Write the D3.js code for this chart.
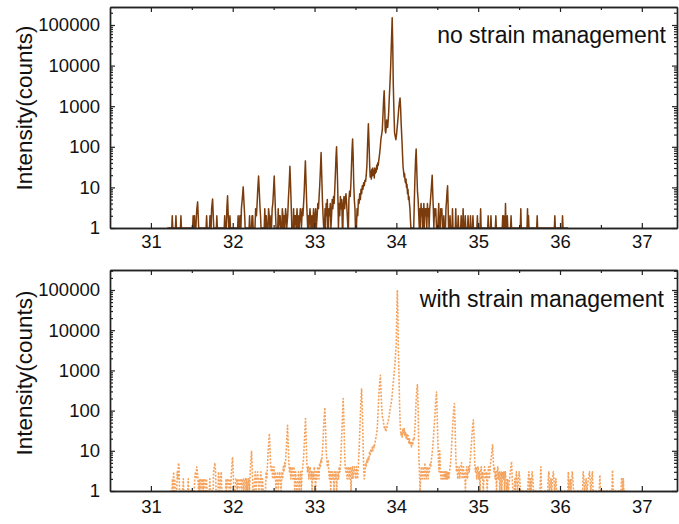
<!DOCTYPE html>
<html><head><meta charset="utf-8">
<script src="https://cdn.jsdelivr.net/npm/d3@7"></script>
<style>body{margin:0;background:#fff} svg{display:block}</style>
</head><body><svg id="c" width="679" height="524"></svg>
<script>
// ---------- data ----------
const xTicks = [31, 32, 33, 34, 35, 36, 37];
const xMinorTicks = [31.5, 32.5, 33.5, 34.5, 35.5, 36.5];
const yTicks = [1, 10, 100, 1000, 10000, 100000];
const panelLabels = ["no strain management", "with strain management"];
const yTitle = "Intensity(counts)";

// [2theta, counts] – no strain management
const noStrain = [
[31.200,1],[31.255,1],[31.261,2],[31.267,1],[31.300,1],[31.306,2],[31.312,1],[31.361,1],[31.367,2],[31.373,1],
[31.510,1],[31.516,2],[31.522,1],[31.532,2],[31.538,1],[31.550,1],[31.556,2],[31.562,3],[31.571,4.4],[31.578,2],[31.584,1],
[31.674,1],[31.681,2],[31.687,1],[31.716,1],[31.722,2],[31.730,2],[31.736,1],[31.742,3],[31.754,5.2],[31.762,2],[31.768,1],[31.800,1],[31.806,2],[31.812,1],
[31.896,1],[31.902,2],[31.908,1],[31.922,1],[31.928,3],[31.937,6.2],[31.945,2],[31.952,1],[31.960,1],[31.966,2],[31.972,1],
[32.060,1],[32.066,2],[32.072,1],[32.082,1],[32.088,2],[32.094,2],[32.100,1],[32.106,3],[32.116,5],[32.128,10.3],[32.138,4],[32.146,2],[32.152,1],
[32.200,1],[32.206,2],[32.212,1],[32.230,1],[32.236,2],[32.244,2],[32.250,1],[32.272,1],[32.280,3],[32.290,2],[32.298,4],[32.306,9],[32.316,19],[32.326,7],[32.334,3],[32.340,2],[32.346,1],
[32.385,1],[32.392,3],[32.398,1],[32.410,2],[32.418,1],[32.432,1],[32.438,3],[32.446,2],[32.454,1],[32.468,2],[32.474,1],[32.482,3],[32.490,4],[32.498,8],[32.507,19],[32.516,6],[32.524,2],[32.530,1],
[32.550,1],[32.556,3],[32.562,1],[32.574,2],[32.580,2],[32.586,1],[32.600,1],[32.606,3],[32.614,2],[32.620,1],[32.630,2],[32.636,1],[32.646,3],[32.654,2],[32.660,1],[32.672,2],[32.680,5],[32.690,12],[32.699,33],[32.708,10],[32.716,3],[32.722,1],
[32.738,1],[32.744,3],[32.750,1],[32.762,2],[32.768,2],[32.774,1],[32.786,3],[32.792,1],[32.800,1],[32.806,2],[32.812,1],[32.826,3],[32.834,2],[32.840,1],[32.850,3],[32.858,2],[32.866,4],[32.874,8],[32.880,18],[32.888,45],[32.896,14],[32.904,4],[32.910,2],[32.916,1],
[32.926,2],[32.932,1],[32.944,3],[32.950,2],[32.956,1],[32.968,2],[32.976,1],[32.988,3],[32.996,1],[33.006,2],[33.014,3],[33.022,1],[33.032,2],[33.040,4],[33.048,3],[33.056,6],[33.064,12],[33.072,28],[33.080,72],[33.088,20],[33.096,5],[33.104,2],[33.112,1],
[33.122,1],[33.128,3],[33.134,1],[33.142,4],[33.148,2],[33.156,5],[33.162,1],[33.170,1],[33.176,3],[33.184,2],[33.192,4],[33.200,1],[33.208,2],[33.216,5],[33.224,3],[33.232,6],[33.240,4],[33.248,10],[33.256,25],[33.262,55],[33.269,100],[33.276,35],[33.284,8],[33.292,1],
[33.300,4],[33.308,2],[33.316,6],[33.324,3],[33.332,5],[33.340,1],[33.346,1],[33.352,4],[33.360,6],[33.368,3],[33.376,5],[33.384,7],[33.392,4],[33.400,2],[33.408,1],[33.414,1],[33.420,5],[33.428,8],[33.436,6],[33.444,12],[33.452,35],[33.458,80],[33.465,155],[33.472,60],[33.478,15],[33.486,5],[33.494,3],[33.500,1],[33.512,1],
[33.520,3],[33.528,2],[33.536,5],[33.544,4],[33.552,7],[33.560,5],[33.568,9],[33.576,7],[33.584,11],[33.592,9],[33.600,13],[33.608,11],[33.616,15],[33.624,14],[33.632,20],[33.640,35],[33.648,110],[33.658,370],[33.666,120],[33.674,35],[33.680,18],
[33.688,25],[33.694,16],[33.700,28],[33.706,19],[33.712,30],[33.718,20],[33.724,26],[33.730,17],[33.736,30],[33.742,22],[33.748,28],[33.754,24],[33.760,35],[33.766,28],[33.772,40],[33.778,35],[33.784,45],[33.790,55],[33.796,70],[33.804,100],[33.812,160],[33.820,200],[33.828,260],[33.836,600],[33.844,1400],[33.851,2400],[33.858,900],[33.864,250],[33.870,220],[33.876,300],[33.882,460],[33.888,350],[33.894,300],[33.900,450],[33.906,700],[33.912,1400],[33.920,3000],[33.930,9000],[33.940,40000],[33.949,150000],[33.956,30000],[33.962,3700],[33.970,800],[33.978,220],[33.986,180],[33.994,150],[34.002,200],[34.010,300],[34.020,500],[34.030,900],[34.038,1300],[34.045,1600],[34.052,900],[34.058,400],[34.064,220],[34.070,120],[34.076,60],[34.082,32],[34.088,25],[34.094,18],[34.100,22],[34.106,15],[34.112,13],[34.118,16],[34.124,10],[34.130,12],[34.136,7],[34.142,9],[34.148,5],[34.154,6],[34.160,4],[34.166,3],[34.172,1.6],[34.178,1],
[34.200,1],[34.212,1],[34.220,5],[34.228,20],[34.235,50],[34.242,88],[34.250,25],[34.258,8],[34.266,5],[34.274,2],[34.280,1],
[34.288,3],[34.294,1],[34.302,4],[34.308,2],[34.316,3],[34.322,1],[34.330,2],[34.336,4],[34.342,1],[34.352,3],[34.358,2],[34.366,3],[34.372,1],[34.380,4],[34.386,2],[34.394,3],[34.400,1],[34.408,3],[34.414,4],[34.420,6],[34.428,10],[34.438,20],[34.446,6],[34.452,3],[34.458,1],
[34.466,3],[34.474,2],[34.482,3],[34.490,1],[34.506,1],[34.512,2],[34.518,4],[34.524,1],[34.536,1],[34.542,3],[34.548,2],[34.556,3],[34.564,1],[34.574,1],[34.580,2],[34.586,1],[34.600,1],[34.606,3],[34.614,5],[34.620,8],[34.626,11],[34.632,4],[34.638,1],
[34.650,1],[34.656,2],[34.662,1],[34.680,1],[34.686,3],[34.692,1],[34.720,1],[34.726,3],[34.732,1],[34.750,1],[34.756,2],[34.762,1],[34.786,1],[34.792,2],[34.798,1],[34.810,1],[34.816,3],[34.822,1],[34.836,1],[34.842,2],[34.848,1],[34.870,1],[34.876,2],[34.882,1],[34.900,1],[34.906,2],[34.912,1],[34.930,1],[34.936,2],[34.942,1],[34.984,1],[34.990,2],[34.996,1],[35.024,1],[35.030,3],[35.036,1],
[35.116,1],[35.122,2],[35.128,1],[35.150,1],[35.156,2],[35.162,1],[35.210,1],[35.216,2],[35.222,1],[35.294,1],[35.300,2],[35.306,1],[35.312,2],[35.318,1],[35.328,1],[35.334,4],[35.340,1],[35.350,1],[35.356,2],[35.362,1],[35.396,1],[35.402,2],[35.408,1],[35.515,1],[35.521,3],[35.527,1],[35.597,1],[35.603,3],[35.609,1],[35.615,2],[35.621,1],[35.715,1],[35.721,2],[35.727,1],[35.931,1],[35.937,2],[35.943,1],[36.025,1],[36.031,2],[36.037,1],[36.100,1]
];

// [2theta, counts] – with strain management
const withStrain = [
[31.240,1],[31.258,1],[31.264,2],[31.270,1],[31.278,3],[31.284,1],[31.292,2],[31.298,1],[31.316,1],[31.322,3],[31.330,2],[31.338,5],[31.344,4],[31.350,1],[31.390,1],[31.396,2],[31.402,1],[31.450,1],[31.456,2],[31.462,1],
[31.530,1],[31.536,2],[31.544,3],[31.552,2],[31.560,4],[31.568,3],[31.576,2],[31.582,1],[31.592,2],[31.600,1],[31.608,2],[31.616,2],[31.624,1],[31.634,2],[31.642,1],[31.652,2],[31.660,2],[31.668,1],[31.680,2],[31.686,1],[31.714,1],[31.720,2],[31.726,1],[31.760,1],[31.766,3],[31.774,4],[31.782,5],[31.790,3],[31.796,1],[31.820,1],[31.826,3],[31.834,2],[31.842,1],[31.852,2],[31.860,3],[31.866,1],
[31.912,1],[31.918,2],[31.924,1],[31.940,2],[31.948,2],[31.956,1],[31.966,2],[31.974,1],[31.984,3],[31.992,5],[31.998,7],[32.006,3],[32.014,1],[32.030,1],[32.040,2],[32.048,2],[32.056,1],[32.066,2],[32.074,2],[32.082,1],[32.094,2],[32.102,2],[32.110,1],[32.120,2],[32.128,2],[32.136,1],[32.146,2],[32.154,2],[32.162,1],[32.172,2],[32.180,1],[32.196,2],[32.204,1],[32.214,3],[32.222,6],[32.230,10],[32.238,4],[32.246,1],[32.260,1],[32.268,2],[32.276,3],[32.284,1],[32.296,2],[32.304,3],[32.312,2],[32.320,1],[32.336,2],[32.344,3],[32.352,1],[32.364,2],[32.372,1],
[32.400,1],[32.408,3],[32.416,2],[32.424,4],[32.432,9],[32.440,16],[32.448,27],[32.456,10],[32.464,4],[32.472,3],[32.480,4],[32.488,2],[32.496,3],[32.504,4],[32.512,2],[32.520,3],[32.528,1],[32.540,2],[32.548,3],[32.556,1],[32.566,2],[32.574,3],[32.582,2],[32.590,1],[32.602,3],[32.610,2],[32.618,4],[32.626,3],[32.634,5],[32.642,4],[32.650,8],[32.658,14],[32.664,25],[32.670,43],[32.678,15],[32.686,5],[32.694,3],[32.702,4],[32.710,2],[32.718,3],[32.726,4],[32.734,2],[32.742,3],[32.750,4],[32.758,1],[32.768,3],[32.776,2],[32.784,1],
[32.796,2],[32.804,3],[32.812,1],[32.822,2],[32.830,3],[32.838,1],[32.848,3],[32.856,4],[32.864,6],[32.872,12],[32.880,26],[32.890,63],[32.898,18],[32.906,5],[32.914,3],[32.922,4],[32.930,2],[32.938,3],[32.946,4],[32.954,2],[32.962,3],[32.970,1],[32.980,3],[32.988,2],[32.996,4],[33.004,3],[33.012,1],[33.022,3],[33.030,2],[33.038,4],[33.046,3],[33.054,2],[33.062,5],[33.070,4],[33.078,6],[33.086,5],[33.094,8],[33.102,15],[33.110,35],[33.118,70],[33.126,120],[33.134,40],[33.142,10],[33.150,6],[33.158,4],[33.166,6],[33.174,3],
[33.182,2],[33.190,3],[33.198,1],[33.206,3],[33.214,2],[33.222,3],[33.230,2],[33.238,1],[33.246,3],[33.254,2],[33.262,3],[33.270,1],[33.278,2],[33.286,3],[33.294,2],[33.302,4],[33.310,3],[33.318,5],[33.326,12],[33.334,30],[33.342,80],[33.350,200],[33.358,60],[33.366,12],[33.374,4],[33.382,3],[33.390,4],[33.398,2],[33.406,3],[33.414,4],[33.422,2],[33.430,3],[33.438,4],[33.446,1],[33.454,3],[33.462,4],[33.470,2],[33.478,3],[33.486,4],[33.494,3],[33.502,2],[33.510,4],[33.518,3],[33.526,2],[33.534,4],[33.542,8],[33.550,20],[33.558,60],[33.566,160],[33.575,345],[33.584,100],[33.592,20],[33.600,4],[33.608,2],
[33.616,3],[33.624,5],[33.632,4],[33.640,6],[33.648,5],[33.656,7],[33.664,6],[33.672,9],[33.680,8],[33.688,11],[33.696,9],[33.704,12],[33.712,10],[33.720,14],[33.728,12],[33.736,15],[33.744,18],[33.752,22],[33.760,28],[33.768,40],[33.776,90],[33.784,200],[33.794,450],[33.805,760],[33.814,250],[33.822,110],[33.830,70],[33.838,64],[33.846,45],[33.854,35],[33.862,40],[33.870,30],[33.878,34],[33.886,40],[33.894,50],[33.902,56],[33.910,70],[33.918,90],[33.926,120],[33.934,140],[33.942,180],[33.950,260],[33.958,400],[33.966,600],[33.974,900],[33.982,1370],[33.990,2500],[33.998,4200],[34.004,20000],[34.012,100000],[34.018,30000],[34.024,3600],[34.030,1200],[34.036,300],
[34.040,120],[34.048,40],[34.056,25],[34.064,30],[34.072,22],[34.080,36],[34.088,28],[34.096,36],[34.104,24],[34.112,30],[34.120,20],[34.128,26],[34.136,18],[34.144,24],[34.152,15],[34.160,20],[34.168,14],[34.176,17],[34.184,12],[34.192,16],[34.200,14],[34.208,21],[34.216,18],[34.224,30],[34.232,60],[34.240,150],[34.248,300],[34.257,440],[34.266,120],[34.274,9],[34.282,3],[34.290,1],
[34.300,3],[34.308,4],[34.316,2],[34.324,3],[34.332,4],[34.340,2],[34.348,5],[34.356,3],[34.364,2],[34.372,4],[34.380,3],[34.388,2],[34.396,4],[34.404,3],[34.412,5],[34.420,4],[34.428,6],[34.436,8],[34.444,12],[34.452,20],[34.460,35],[34.468,60],[34.476,120],[34.484,200],[34.491,290],[34.498,90],[34.506,20],[34.514,6],[34.522,3],
[34.530,10],[34.538,3],[34.546,2],[34.554,3],[34.562,2],[34.570,3],[34.578,2],[34.586,3],[34.594,2],[34.602,3],[34.610,2],[34.618,3],[34.626,2],[34.634,3],[34.642,2],[34.650,3],[34.658,4],[34.666,6],[34.674,12],[34.682,25],[34.690,50],[34.700,100],[34.709,150],[34.718,40],[34.726,8],[34.734,3],
[34.742,4],[34.750,2],[34.758,3],[34.766,4],[34.774,2],[34.782,3],[34.790,4],[34.797,5],[34.804,2],[34.812,3],[34.820,4],[34.828,2],[34.836,3],[34.844,1],[34.852,3],[34.860,4],[34.868,2],[34.876,3],[34.884,4],[34.892,3],[34.900,5],[34.908,8],[34.916,14],[34.924,25],[34.932,40],[34.941,58],[34.950,20],[34.958,5],[34.966,3],
[34.974,4],[34.982,2],[34.990,3],[34.998,4],[35.006,2],[35.014,3],[35.022,1],[35.030,3],[35.038,4],[35.046,2],[35.054,3],[35.062,1],[35.070,2],[35.078,4],[35.086,3],[35.094,2],[35.102,3],[35.110,1],[35.120,3],[35.128,4],[35.136,2],[35.144,3],[35.152,5],[35.160,7],[35.168,10],[35.176,14],[35.184,6],[35.192,3],[35.200,4],[35.208,2],[35.216,3],[35.224,1],[35.232,3],[35.240,4],[35.248,2],[35.256,3],[35.264,1],[35.272,2],[35.280,3],[35.288,1],[35.298,3],[35.306,2],[35.314,3],[35.322,1],[35.332,3],[35.340,2],[35.348,1],[35.360,2],[35.368,1],[35.384,2],[35.392,3],[35.400,4],[35.408,5.4],[35.416,2],[35.424,1],[35.440,1],[35.448,2],[35.456,1],[35.466,3],[35.474,2],[35.482,1],[35.500,3],[35.508,2],[35.516,1],
[35.606,1],[35.612,2],[35.620,3],[35.628,1],[35.640,2],[35.648,1],[35.660,3],[35.668,2],[35.676,1],[35.756,1],[35.766,4],[35.774,1],[35.850,1],[35.856,2],[35.864,3],[35.872,1],[35.890,2],[35.898,1],[35.918,3],[35.926,2],[35.934,1],[35.950,2],[35.958,1],[36.096,1],[36.102,3],[36.110,1],[36.126,2],[36.134,1],[36.150,3],[36.158,2],[36.166,1],[36.276,1],[36.284,3],[36.292,2],[36.300,1],[36.320,2],[36.328,1],[36.360,3],[36.368,2],[36.376,1],[36.396,3],[36.404,1],[36.480,1],[36.487,2.5],[36.494,1],[36.635,1],[36.642,3.3],[36.650,1],[36.745,1],[36.752,2],[36.760,2],[36.768,1],[36.774,2],[36.780,1],[36.800,1]
];

// ---------- drawing ----------
const svg = d3.select("#c");
const FONT = "'Liberation Sans', Arial, Helvetica, sans-serif";
const AXIS = "#222";
const left = 110, right = 677;
const x = d3.scaleLinear().domain([30.5, 37.43]).range([left, right]);

const panels = [
  {data: noStrain, top: 7, bottom: 228, ymax: Math.pow(10, 5.443), color: "#7a3c0c", width: 1.5, dash: null,
   label: panelLabels[0], labelX: 666, labelY: 43, titleY: 108, xPad: 7},
  {data: withStrain, top: 270, bottom: 491, ymax: Math.pow(10, 5.4975), color: "#f5a25c", width: 1.6, dash: "2,1.5",
   label: panelLabels[1], labelX: 664, labelY: 307, titleY: 373, xPad: 9}
];

panels.forEach((p, i) => {
  const y = d3.scaleLog().domain([1, p.ymax]).range([p.bottom, p.top]);
  const g = svg.append("g");
  const clipId = "clip" + i;
  svg.append("clipPath").attr("id", clipId).append("rect")
    .attr("x", left).attr("y", p.top).attr("width", right - left).attr("height", p.bottom - p.top);

  const line = d3.line().x(d => x(d[0])).y(d => y(d[1]));
  g.append("path").datum(p.data)
    .attr("clip-path", `url(#${clipId})`)
    .attr("fill", "none").attr("stroke", p.color).attr("stroke-width", p.width)
    .attr("stroke-linejoin", "round")
    .attr("stroke-dasharray", p.dash)
    .attr("d", line);

  const minorY = [];
  for (let e = 0; e <= 5; e++) for (let k = 2; k <= 9; k++) {
    const v = k * Math.pow(10, e);
    if (v <= p.ymax) minorY.push(v);
  }

  const styleAxis = sel => {
    sel.selectAll("path.domain").attr("stroke", AXIS).attr("stroke-width", 1.4);
    sel.selectAll(".tick line").attr("stroke", AXIS).attr("stroke-width", 1.2);
    sel.selectAll("text").attr("font-family", FONT).attr("font-size", "18.5px").attr("fill", "#111");
  };

  g.append("g").attr("transform", `translate(0,${p.bottom})`)
    .call(d3.axisBottom(x).tickValues(xTicks).tickSizeInner(-5).tickSizeOuter(0).tickPadding(p.xPad).tickFormat(d3.format("d")))
    .call(styleAxis);
  g.append("g").attr("transform", `translate(0,${p.bottom})`)
    .call(d3.axisBottom(x).tickValues(xMinorTicks).tickSizeInner(-3).tickSizeOuter(0).tickFormat(""))
    .call(styleAxis);
  g.append("g").attr("transform", `translate(0,${p.top})`)
    .call(d3.axisTop(x).tickValues(xTicks).tickSizeInner(-5).tickSizeOuter(0).tickFormat(""))
    .call(styleAxis);
  g.append("g").attr("transform", `translate(0,${p.top})`)
    .call(d3.axisTop(x).tickValues(xMinorTicks).tickSizeInner(-3).tickSizeOuter(0).tickFormat(""))
    .call(styleAxis);
  g.append("g").attr("transform", `translate(${left},0)`)
    .call(d3.axisLeft(y).tickValues(yTicks).tickSizeInner(-5).tickSizeOuter(0).tickPadding(10).tickFormat(d3.format("d")))
    .call(styleAxis);
  g.append("g").attr("transform", `translate(${left},0)`)
    .call(d3.axisLeft(y).tickValues(minorY).tickSizeInner(-3).tickSizeOuter(0).tickFormat(""))
    .call(styleAxis);
  g.append("g").attr("transform", `translate(${right},0)`)
    .call(d3.axisRight(y).tickValues(yTicks).tickSizeInner(-5).tickSizeOuter(0).tickFormat(""))
    .call(styleAxis);
  g.append("g").attr("transform", `translate(${right},0)`)
    .call(d3.axisRight(y).tickValues(minorY).tickSizeInner(-3).tickSizeOuter(0).tickFormat(""))
    .call(styleAxis);

  g.append("text").attr("x", p.labelX).attr("y", p.labelY)
    .attr("text-anchor", "end").attr("font-family", FONT).attr("font-size", "23px").attr("fill", "#111")
    .text(p.label);
  g.append("text").attr("transform", `translate(32,${p.titleY}) rotate(-90)`)
    .attr("text-anchor", "middle").attr("font-family", FONT).attr("font-size", "22.5px").attr("fill", "#111")
    .text(yTitle);
});
</script>
</body></html>
